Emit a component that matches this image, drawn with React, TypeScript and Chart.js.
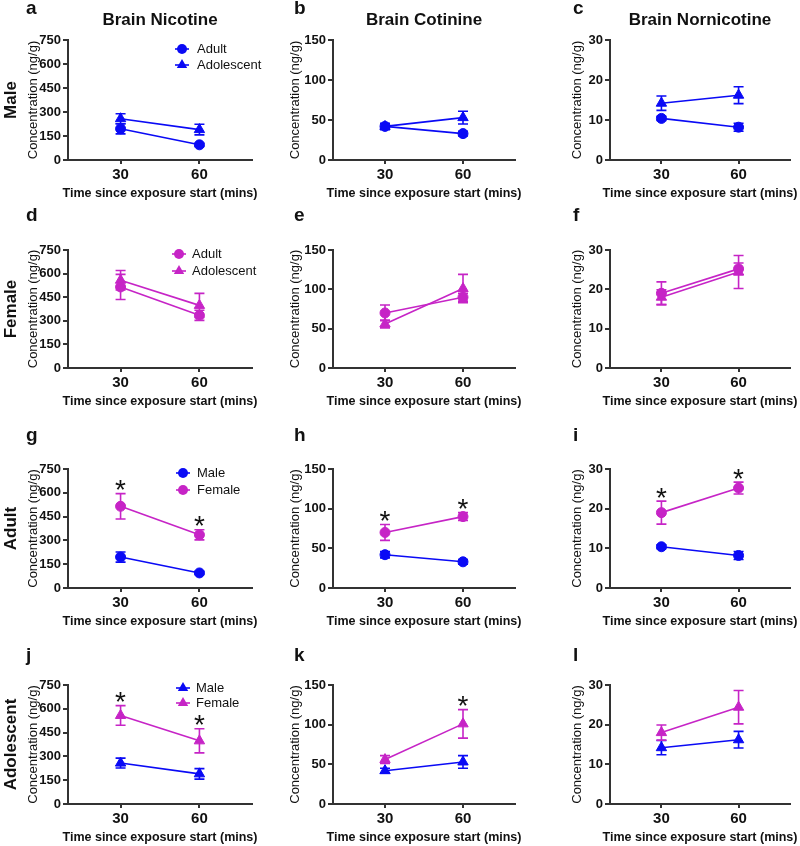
import React, { useEffect, useRef } from "react";
import { Chart, registerables } from "chart.js";
Chart.register(...registerables);

// ---------- data ----------
const timeMins = [30, 60];
const xTickValues = [30, 60];
const xMin = 10;
const xMax = 80;

const nicotineTicks = [0, 150, 300, 450, 600, 750];
const cotinineTicks = [0, 50, 100, 150];
const nornicotineTicks = [0, 10, 20, 30];

const columnTitles = ["Brain Nicotine", "Brain Cotinine", "Brain Nornicotine"];
const rowLabels = ["Male", "Female", "Adult", "Adolescent"];
const panelLetters = ["a", "b", "c", "d", "e", "f", "g", "h", "i", "j", "k", "l"];

// Nicotine (ng/g), mean and SEM at 30 / 60 min
const nicMaleAdult = [195, 95];
const nicMaleAdultSem = [32, 10];
const nicMaleAdol = [258, 190];
const nicMaleAdolSem = [31, 33];
const nicFemaleAdult = [515, 335];
const nicFemaleAdultSem = [80, 32];
const nicFemaleAdol = [558, 398];
const nicFemaleAdolSem = [62, 76];

// Cotinine (ng/g)
const cotMaleAdult = [42, 33];
const cotMaleAdultSem = [4, 3];
const cotMaleAdol = [42, 53];
const cotMaleAdolSem = [3, 8];
const cotFemaleAdult = [70, 90];
const cotFemaleAdultSem = [10, 5];
const cotFemaleAdol = [56, 101];
const cotFemaleAdolSem = [5, 18];

// Nornicotine (ng/g)
const norMaleAdult = [10.4, 8.2];
const norMaleAdultSem = [0.5, 1.0];
const norMaleAdol = [14.2, 16.2];
const norMaleAdolSem = [1.8, 2.1];
const norFemaleAdult = [19.0, 25.2];
const norFemaleAdultSem = [2.9, 1.5];
const norFemaleAdol = [18.0, 24.4];
const norFemaleAdolSem = [1.9, 4.2];

// significance (sex difference) markers at 30 / 60 min
const sigAdultNic = [true, true];
const sigAdultCot = [true, true];
const sigAdultNor = [true, true];
const sigAdolNic = [true, true];
const sigAdolCot = [false, true];
const sigAdolNor = [false, false];

// ---------- styles ----------
const FONT = '"Liberation Sans", Arial, Helvetica, sans-serif';
const BLUE = "#0A0AF5";
const MAGENTA = "#C624C6";
const AXIS = "#333333";
const TEXT = "#111111";

type Shape = "circle" | "triangle";
type Series = {
  label: string;
  mean: number[];
  sem: number[];
  color: string;
  shape: Shape;
  stars?: boolean[];
};
type Panel = {
  idx: number;
  row: number;
  col: number;
  ticks: number[];
  series: Series[];
  legend?: { mx: number; tx: number; y0: number; dy: number };
};

const colAxisX = [68, 333, 610];
const colPlotW = [184, 182, 180];
const colCanvasLeft = [0, 265, 532];
const colCanvasW = [265, 267, 268];
const colYTitleOff = [35, 38, 33];
const colLetterOff = [42, 39, 37];
const rowPlotTop = [40, 250, 469, 685];
const rowPlotH = [120, 118, 119, 119];
const rowCanvasTop = [0, 204, 423, 639];
const rowLetterOff = [26, 29, 28, 24];
const CANVAS_H = 206;

const tickSets = [nicotineTicks, cotinineTicks, nornicotineTicks];

const s = (label: string, mean: number[], sem: number[], color: string, shape: Shape, stars?: boolean[]): Series => ({
  label, mean, sem, color, shape, stars,
});

const panels: Panel[] = [
  { idx: 0, row: 0, col: 0, ticks: tickSets[0], series: [s("Adult", nicMaleAdult, nicMaleAdultSem, BLUE, "circle"), s("Adolescent", nicMaleAdol, nicMaleAdolSem, BLUE, "triangle")], legend: { mx: 114, tx: 129, y0: 9, dy: 16 } },
  { idx: 1, row: 0, col: 1, ticks: tickSets[1], series: [s("Adult", cotMaleAdult, cotMaleAdultSem, BLUE, "circle"), s("Adolescent", cotMaleAdol, cotMaleAdolSem, BLUE, "triangle")] },
  { idx: 2, row: 0, col: 2, ticks: tickSets[2], series: [s("Adult", norMaleAdult, norMaleAdultSem, BLUE, "circle"), s("Adolescent", norMaleAdol, norMaleAdolSem, BLUE, "triangle")] },
  { idx: 3, row: 1, col: 0, ticks: tickSets[0], series: [s("Adult", nicFemaleAdult, nicFemaleAdultSem, MAGENTA, "circle"), s("Adolescent", nicFemaleAdol, nicFemaleAdolSem, MAGENTA, "triangle")], legend: { mx: 111, tx: 124, y0: 4, dy: 17 } },
  { idx: 4, row: 1, col: 1, ticks: tickSets[1], series: [s("Adult", cotFemaleAdult, cotFemaleAdultSem, MAGENTA, "circle"), s("Adolescent", cotFemaleAdol, cotFemaleAdolSem, MAGENTA, "triangle")] },
  { idx: 5, row: 1, col: 2, ticks: tickSets[2], series: [s("Adult", norFemaleAdult, norFemaleAdultSem, MAGENTA, "circle"), s("Adolescent", norFemaleAdol, norFemaleAdolSem, MAGENTA, "triangle")] },
  { idx: 6, row: 2, col: 0, ticks: tickSets[0], series: [s("Male", nicMaleAdult, nicMaleAdultSem, BLUE, "circle"), s("Female", nicFemaleAdult, nicFemaleAdultSem, MAGENTA, "circle", sigAdultNic)], legend: { mx: 115, tx: 129, y0: 4, dy: 17 } },
  { idx: 7, row: 2, col: 1, ticks: tickSets[1], series: [s("Male", cotMaleAdult, cotMaleAdultSem, BLUE, "circle"), s("Female", cotFemaleAdult, cotFemaleAdultSem, MAGENTA, "circle", sigAdultCot)] },
  { idx: 8, row: 2, col: 2, ticks: tickSets[2], series: [s("Male", norMaleAdult, norMaleAdultSem, BLUE, "circle"), s("Female", norFemaleAdult, norFemaleAdultSem, MAGENTA, "circle", sigAdultNor)] },
  { idx: 9, row: 3, col: 0, ticks: tickSets[0], series: [s("Male", nicMaleAdol, nicMaleAdolSem, BLUE, "triangle"), s("Female", nicFemaleAdol, nicFemaleAdolSem, MAGENTA, "triangle", sigAdolNic)], legend: { mx: 115, tx: 128, y0: 3, dy: 15 } },
  { idx: 10, row: 3, col: 1, ticks: tickSets[1], series: [s("Male", cotMaleAdol, cotMaleAdolSem, BLUE, "triangle"), s("Female", cotFemaleAdol, cotFemaleAdolSem, MAGENTA, "triangle", sigAdolCot)] },
  { idx: 11, row: 3, col: 2, ticks: tickSets[2], series: [s("Male", norMaleAdol, norMaleAdolSem, BLUE, "triangle"), s("Female", norFemaleAdol, norFemaleAdolSem, MAGENTA, "triangle", sigAdolNor)] },
];

function geom(p: Panel) {
  const left = colCanvasLeft[p.col];
  const top = rowCanvasTop[p.row];
  const w = colCanvasW[p.col];
  const h = CANVAS_H;
  const yw = colAxisX[p.col] - left;
  const padRight = w - yw - colPlotW[p.col];
  const padTop = rowPlotTop[p.row] - top;
  const xh = h - padTop - rowPlotH[p.row];
  return { left, top, w, h, yw, padRight, padTop, xh };
}

function drawMarker(ctx: CanvasRenderingContext2D, shape: Shape, x: number, y: number, color: string) {
  ctx.save();
  ctx.fillStyle = color;
  ctx.beginPath();
  if (shape === "circle") {
    ctx.arc(x, y, 5, 0, Math.PI * 2);
  } else {
    const r = 6;
    ctx.moveTo(x, y - r);
    ctx.lineTo(x + r * 0.866, y + r * 0.5);
    ctx.lineTo(x - r * 0.866, y + r * 0.5);
    ctx.closePath();
  }
  ctx.fill();
  ctx.restore();
}

function makeDeco(p: Panel) {
  return {
    id: "deco",
    beforeDatasetsDraw(chart: any) {
      const ctx = chart.ctx as CanvasRenderingContext2D;
      const xs = chart.scales.x;
      const ys = chart.scales.y;
      ctx.save();
      ctx.lineWidth = 1.6;
      p.series.forEach((ser) => {
        ctx.strokeStyle = ser.color;
        timeMins.forEach((t, i) => {
          const x = xs.getPixelForValue(t);
          const yt = ys.getPixelForValue(ser.mean[i] + ser.sem[i]);
          const yb = ys.getPixelForValue(ser.mean[i] - ser.sem[i]);
          ctx.beginPath();
          ctx.moveTo(x, yt);
          ctx.lineTo(x, yb);
          ctx.moveTo(x - 5, yt);
          ctx.lineTo(x + 5, yt);
          ctx.moveTo(x - 5, yb);
          ctx.lineTo(x + 5, yb);
          ctx.stroke();
        });
      });
      ctx.restore();
    },
    afterDatasetsDraw(chart: any) {
      const ctx = chart.ctx as CanvasRenderingContext2D;
      const xs = chart.scales.x;
      const ys = chart.scales.y;
      const area = chart.chartArea;
      ctx.save();
      // significance asterisks
      ctx.fillStyle = TEXT;
      ctx.font = `28px ${FONT}`;
      ctx.textAlign = "center";
      ctx.textBaseline = "alphabetic";
      p.series.forEach((ser) => {
        if (!ser.stars) return;
        timeMins.forEach((t, i) => {
          if (!ser.stars![i]) return;
          const x = xs.getPixelForValue(t);
          const yt = ys.getPixelForValue(ser.mean[i] + ser.sem[i]);
          ctx.fillText("*", x, yt + 5.5);
        });
      });
      // legend
      if (p.legend) {
        const L = p.legend;
        p.series.forEach((ser, k) => {
          const y = area.top + L.y0 + k * L.dy;
          const mx = area.left + L.mx;
          ctx.strokeStyle = ser.color;
          ctx.lineWidth = 1.6;
          ctx.beginPath();
          ctx.moveTo(mx - 7, y);
          ctx.lineTo(mx + 7, y);
          ctx.stroke();
          drawMarker(ctx, ser.shape, mx, y, ser.color);
          ctx.fillStyle = TEXT;
          ctx.font = `13px ${FONT}`;
          ctx.textAlign = "left";
          ctx.textBaseline = "middle";
          ctx.fillText(ser.label, area.left + L.tx, y + 0.5);
        });
      }
      ctx.restore();
    },
    afterDraw(chart: any) {
      const ctx = chart.ctx as CanvasRenderingContext2D;
      const area = chart.chartArea;
      const cx = (area.left + area.right) / 2;
      const cy = (area.top + area.bottom) / 2;
      ctx.save();
      ctx.fillStyle = TEXT;
      // panel letter
      ctx.font = `bold 19px ${FONT}`;
      ctx.textAlign = "left";
      ctx.textBaseline = "alphabetic";
      ctx.fillText(panelLetters[p.idx], area.left - colLetterOff[p.col], area.top - rowLetterOff[p.row]);
      // column title
      if (p.row === 0) {
        ctx.font = `bold 17px ${FONT}`;
        ctx.textAlign = "center";
        ctx.textBaseline = "middle";
        ctx.fillText(columnTitles[p.col], cx, area.top - 20);
      }
      // x axis title
      ctx.font = `bold 12.5px ${FONT}`;
      ctx.textAlign = "center";
      ctx.textBaseline = "middle";
      ctx.fillText("Time since exposure start (mins)", cx, area.bottom + 34);
      // y axis title
      ctx.save();
      ctx.translate(area.left - colYTitleOff[p.col], cy);
      ctx.rotate(-Math.PI / 2);
      ctx.font = `13px ${FONT}`;
      ctx.fillText("Concentration (ng/g)", 0, 0);
      ctx.restore();
      // row label
      if (p.col === 0) {
        ctx.save();
        ctx.translate(11, cy);
        ctx.rotate(-Math.PI / 2);
        ctx.font = `bold 17px ${FONT}`;
        ctx.textAlign = "center";
        ctx.textBaseline = "middle";
        ctx.fillText(rowLabels[p.row], 0, 0);
        ctx.restore();
      }
      ctx.restore();
    },
  };
}

function PanelChart({ panel }: { panel: Panel }) {
  const ref = useRef<HTMLCanvasElement>(null);
  const g = geom(panel);
  useEffect(() => {
    const ticks = panel.ticks;
    const chart = new Chart(ref.current as HTMLCanvasElement, {
      type: "line",
      data: {
        datasets: panel.series.map((ser) => ({
          label: ser.label,
          data: timeMins.map((t, i) => ({ x: t, y: ser.mean[i] })),
          borderColor: ser.color,
          backgroundColor: ser.color,
          pointBackgroundColor: ser.color,
          pointBorderColor: ser.color,
          pointStyle: ser.shape,
          pointRadius: ser.shape === "triangle" ? 6 : 5,
          pointBorderWidth: 1,
          borderWidth: 1.6,
          tension: 0,
          fill: false,
        })),
      },
      options: {
        responsive: false,
        animation: false,
        devicePixelRatio: 1,
        events: [],
        layout: { padding: { left: 0, top: g.padTop, right: g.padRight, bottom: 0 } },
        plugins: { legend: { display: false }, title: { display: false }, tooltip: { enabled: false } },
        scales: {
          x: {
            type: "linear",
            min: xMin,
            max: xMax,
            afterBuildTicks: (sc: any) => {
              sc.ticks = xTickValues.map((v) => ({ value: v }));
            },
            afterFit: (sc: any) => {
              sc.height = g.xh;
            },
            ticks: {
              autoSkip: false,
              maxRotation: 0,
              padding: 2,
              color: TEXT,
              font: { family: FONT, size: 15, weight: "bold" },
              callback: (v: any) => String(v),
            },
            grid: { drawOnChartArea: false, drawTicks: true, tickLength: 4, color: AXIS, lineWidth: 2 },
            border: { display: true, color: AXIS, width: 2 },
          },
          y: {
            type: "linear",
            min: ticks[0],
            max: ticks[ticks.length - 1],
            afterBuildTicks: (sc: any) => {
              sc.ticks = ticks.map((v) => ({ value: v }));
            },
            afterFit: (sc: any) => {
              sc.width = g.yw;
            },
            ticks: {
              autoSkip: false,
              padding: 2,
              color: TEXT,
              font: { family: FONT, size: 13, weight: "bold" },
              callback: (v: any) => String(v),
            },
            grid: { drawOnChartArea: false, drawTicks: true, tickLength: 5, color: AXIS, lineWidth: 2 },
            border: { display: true, color: AXIS, width: 2 },
          },
        },
      } as any,
      plugins: [makeDeco(panel)],
    });
    return () => chart.destroy();
  }, []);
  return (
    <canvas
      ref={ref}
      width={g.w}
      height={g.h}
      style={{ position: "absolute", left: g.left, top: g.top, width: g.w, height: g.h }}
    />
  );
}

export default function App() {
  return (
    <div style={{ position: "fixed", left: 0, top: 0, width: 800, height: 846, background: "#ffffff", overflow: "hidden" }}>
      {panels.map((p) => (
        <PanelChart key={p.idx} panel={p} />
      ))}
    </div>
  );
}
